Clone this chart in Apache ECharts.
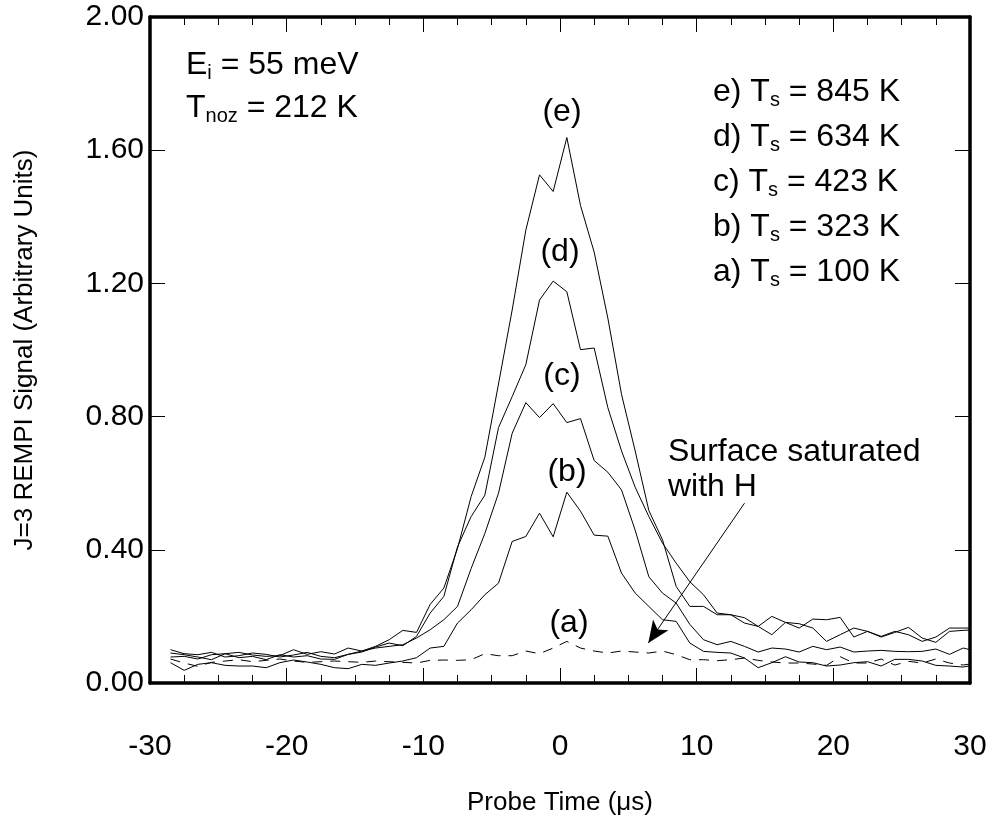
<!DOCTYPE html>
<html>
<head>
<meta charset="utf-8">
<script src="https://cdn.jsdelivr.net/npm/echarts@6/dist/echarts.min.js"></script>
<style>
  html, body { margin: 0; padding: 0; background: #fff; }
  #chart { width: 993px; height: 821px; }
</style>
</head>
<body>
<div id="chart"></div>
<script>
var FONT = '"Liberation Sans", Arial, sans-serif';

// probe times (us)
var times = [-28.5,-27.5,-26.5,-25.5,-24.5,-23.5,-22.5,-21.5,-20.5,-19.5,
  -18.5,-17.5,-16.5,-15.5,-14.5,-13.5,-12.5,-11.5,-10.5,-9.5,
  -8.5,-7.5,-6.5,-5.5,-4.5,-3.5,-2.5,-1.5,-0.5,0.5,
  1.5,2.5,3.5,4.5,5.5,6.5,7.5,8.5,9.5,10.5,
  11.5,12.5,13.5,14.5,15.5,16.5,17.5,18.5,19.5,20.5,
  21.5,22.5,23.5,24.5,25.5,26.5,27.5,28.5,29.5,30.5];

// e) Ts = 845 K
var sigE = [0.090,0.085,0.078,0.070,0.088,0.092,0.084,0.080,0.082,0.100,
  0.086,0.094,0.087,0.105,0.096,0.110,0.130,0.158,0.152,0.236,
  0.285,0.404,0.560,0.678,0.898,1.120,1.360,1.526,1.476,1.638,
  1.434,1.294,1.096,0.867,0.697,0.518,0.430,0.290,0.230,0.230,
  0.205,0.205,0.196,0.170,0.200,0.182,0.178,0.165,0.125,0.145,
  0.165,0.155,0.140,0.155,0.145,0.125,0.138,0.165,0.165,0.165];
// d) Ts = 634 K
var sigD = [0.100,0.088,0.085,0.092,0.078,0.082,0.090,0.086,0.078,0.084,
  0.092,0.080,0.076,0.086,0.093,0.108,0.120,0.112,0.140,0.210,
  0.260,0.409,0.500,0.564,0.767,0.860,0.956,1.150,1.207,1.175,
  1.001,1.006,0.827,0.697,0.588,0.500,0.420,0.360,0.304,0.265,
  0.210,0.205,0.180,0.170,0.145,0.182,0.165,0.192,0.190,0.197,
  0.138,0.155,0.138,0.152,0.167,0.135,0.122,0.155,0.158,0.160];
// c) Ts = 423 K
var sigC = [0.078,0.080,0.072,0.085,0.088,0.076,0.080,0.070,0.085,0.078,
  0.082,0.072,0.071,0.086,0.096,0.105,0.110,0.115,0.135,0.160,
  0.190,0.230,0.344,0.449,0.570,0.750,0.842,0.797,0.839,0.782,
  0.794,0.668,0.633,0.580,0.459,0.319,0.270,0.240,0.176,0.130,
  0.115,0.125,0.110,0.093,0.105,0.102,0.093,0.110,0.100,0.108,
  0.093,0.096,0.098,0.095,0.094,0.095,0.102,0.086,0.105,0.095];
// b) Ts = 323 K
var sigB = [0.061,0.038,0.056,0.061,0.053,0.051,0.051,0.046,0.061,0.069,
  0.063,0.056,0.046,0.043,0.056,0.053,0.060,0.066,0.076,0.105,
  0.110,0.180,0.220,0.265,0.300,0.425,0.440,0.510,0.439,0.573,
  0.516,0.444,0.441,0.330,0.270,0.230,0.190,0.185,0.120,0.095,
  0.092,0.090,0.075,0.046,0.061,0.079,0.063,0.061,0.051,0.054,
  0.061,0.064,0.051,0.071,0.071,0.066,0.053,0.051,0.048,0.055];
// a) Ts = 100 K, surface saturated with H (dashed)
var sigA = [0.072,0.060,0.050,0.062,0.066,0.070,0.064,0.068,0.072,0.066,
  0.062,0.064,0.066,0.064,0.062,0.066,0.064,0.062,0.060,0.068,
  0.069,0.068,0.070,0.088,0.082,0.082,0.096,0.088,0.105,0.125,
  0.105,0.096,0.090,0.096,0.093,0.090,0.096,0.085,0.070,0.070,
  0.067,0.070,0.075,0.068,0.063,0.060,0.060,0.057,0.053,0.079,
  0.060,0.060,0.072,0.054,0.065,0.060,0.072,0.060,0.054,0.060];

var curveTags = ['(e)', '(d)', '(c)', '(b)', '(a)'];
var legendRows = [
  ['e)', '845 K'], ['d)', '634 K'], ['c)', '423 K'], ['b)', '323 K'], ['a)', '100 K']
];
// arrow: start, tip  (us, signal)
var arrowFrom = [13.5, 0.54];
var arrowTo = [6.46, 0.12];

function pairs(ys) {
  var out = [];
  for (var i = 0; i < times.length; i++) out.push([times[i], ys[i]]);
  return out;
}

var myChart = echarts.init(document.getElementById('chart'), null, { renderer: 'canvas' });

var xBase = {
  type: 'value', min: -30, max: 30, interval: 10,
  axisLine: { onZero: false, lineStyle: { color: '#000', width: 3.5 } },
  axisTick: { inside: true, length: 15, lineStyle: { color: '#000', width: 1 } },
  minorTick: { show: true, splitNumber: 4, length: 8, lineStyle: { color: '#000', width: 1 } },
  splitLine: { show: false }
};
var yBase = {
  type: 'value', min: 0, max: 2, interval: 0.4,
  axisLine: { onZero: false, lineStyle: { color: '#000', width: 3.5 } },
  axisTick: { inside: true, length: 15, lineStyle: { color: '#000', width: 1 } },
  splitLine: { show: false }
};

function lineSeries(name, ys, dashed) {
  return {
    name: name, type: 'line', data: pairs(ys), symbol: 'none',
    xAxisIndex: 0, yAxisIndex: 0,
    lineStyle: { color: '#000', width: 1, type: dashed ? [10, 8] : 'solid' },
    animation: false, z: 3
  };
}

var sub = function (t) { return '{s|' + t + '}'; };
var textStyleRich = {
  t: { fontSize: 32, fontFamily: FONT, color: '#000' },
  s: { fontSize: 20, fontFamily: FONT, color: '#000', padding: [16, 0, 0, 0] }
};

var graphics = [];
graphics.push({ type: 'text', x: 186, y: 65,
  style: { text: '{t|E}' + sub('i') + '{t| = 55 meV}', rich: textStyleRich, verticalAlign: 'middle' } });
graphics.push({ type: 'text', x: 186, y: 108,
  style: { text: '{t|T}' + sub('noz') + '{t| = 212 K}', rich: textStyleRich, verticalAlign: 'middle' } });
legendRows.forEach(function (r, i) {
  graphics.push({ type: 'text', x: 713, y: 92 + i * 45,
    style: { text: '{t|' + r[0] + ' T}' + sub('s') + '{t| = ' + r[1] + '}', rich: textStyleRich, verticalAlign: 'middle' } });
});
var tagPos = [[562, 112], [560, 252], [562, 376], [567, 472], [569, 623]];
curveTags.forEach(function (tag, i) {
  graphics.push({ type: 'text', x: tagPos[i][0], y: tagPos[i][1],
    style: { text: tag, font: '32px ' + FONT, fill: '#000', align: 'center', verticalAlign: 'middle' } });
});
graphics.push({ type: 'text', x: 668, y: 470,
  style: { text: 'Surface saturated\nwith H', font: '32px ' + FONT, fill: '#000', lineHeight: 35, verticalAlign: 'middle' } });

var option = {
  backgroundColor: '#fff',
  animation: false,
  grid: { left: 150, right: 23, top: 17, bottom: 134, containLabel: false },
  xAxis: [
    Object.assign({}, xBase, {
      position: 'bottom',
      name: 'Probe Time (\u03bcs)', nameLocation: 'middle', nameGap: 107,
      nameTextStyle: { fontSize: 26, fontFamily: FONT, color: '#000' },
      axisLabel: { margin: 49, fontSize: 30, fontFamily: FONT, color: '#000' }
    }),
    Object.assign({}, xBase, { position: 'top', axisLabel: { show: false } })
  ],
  yAxis: [
    Object.assign({}, yBase, {
      position: 'left',
      name: 'J=3 REMPI Signal (Arbitrary Units)', nameLocation: 'middle', nameGap: 112,
      nameRotate: 90,
      nameTextStyle: { fontSize: 26, fontFamily: FONT, color: '#000' },
      axisLabel: { margin: 6, fontSize: 30, fontFamily: FONT, color: '#000',
        formatter: function (v) { return v.toFixed(2); } }
    }),
    Object.assign({}, yBase, { position: 'right', axisLabel: { show: false } })
  ],
  series: [
    lineSeries('e', sigE, false),
    lineSeries('d', sigD, false),
    lineSeries('c', sigC, false),
    lineSeries('b', sigB, false),
    Object.assign(lineSeries('a', sigA, true), {
      markLine: {
        silent: true, animation: false,
        symbol: ['none', 'arrow'], symbolSize: [14, 22],
        label: { show: false },
        lineStyle: { color: '#000', width: 1, type: 'solid' },
        data: [[{ coord: arrowFrom }, { coord: arrowTo }]]
      }
    })
  ],
  graphic: graphics
};
myChart.setOption(option);
</script>
</body>
</html>
